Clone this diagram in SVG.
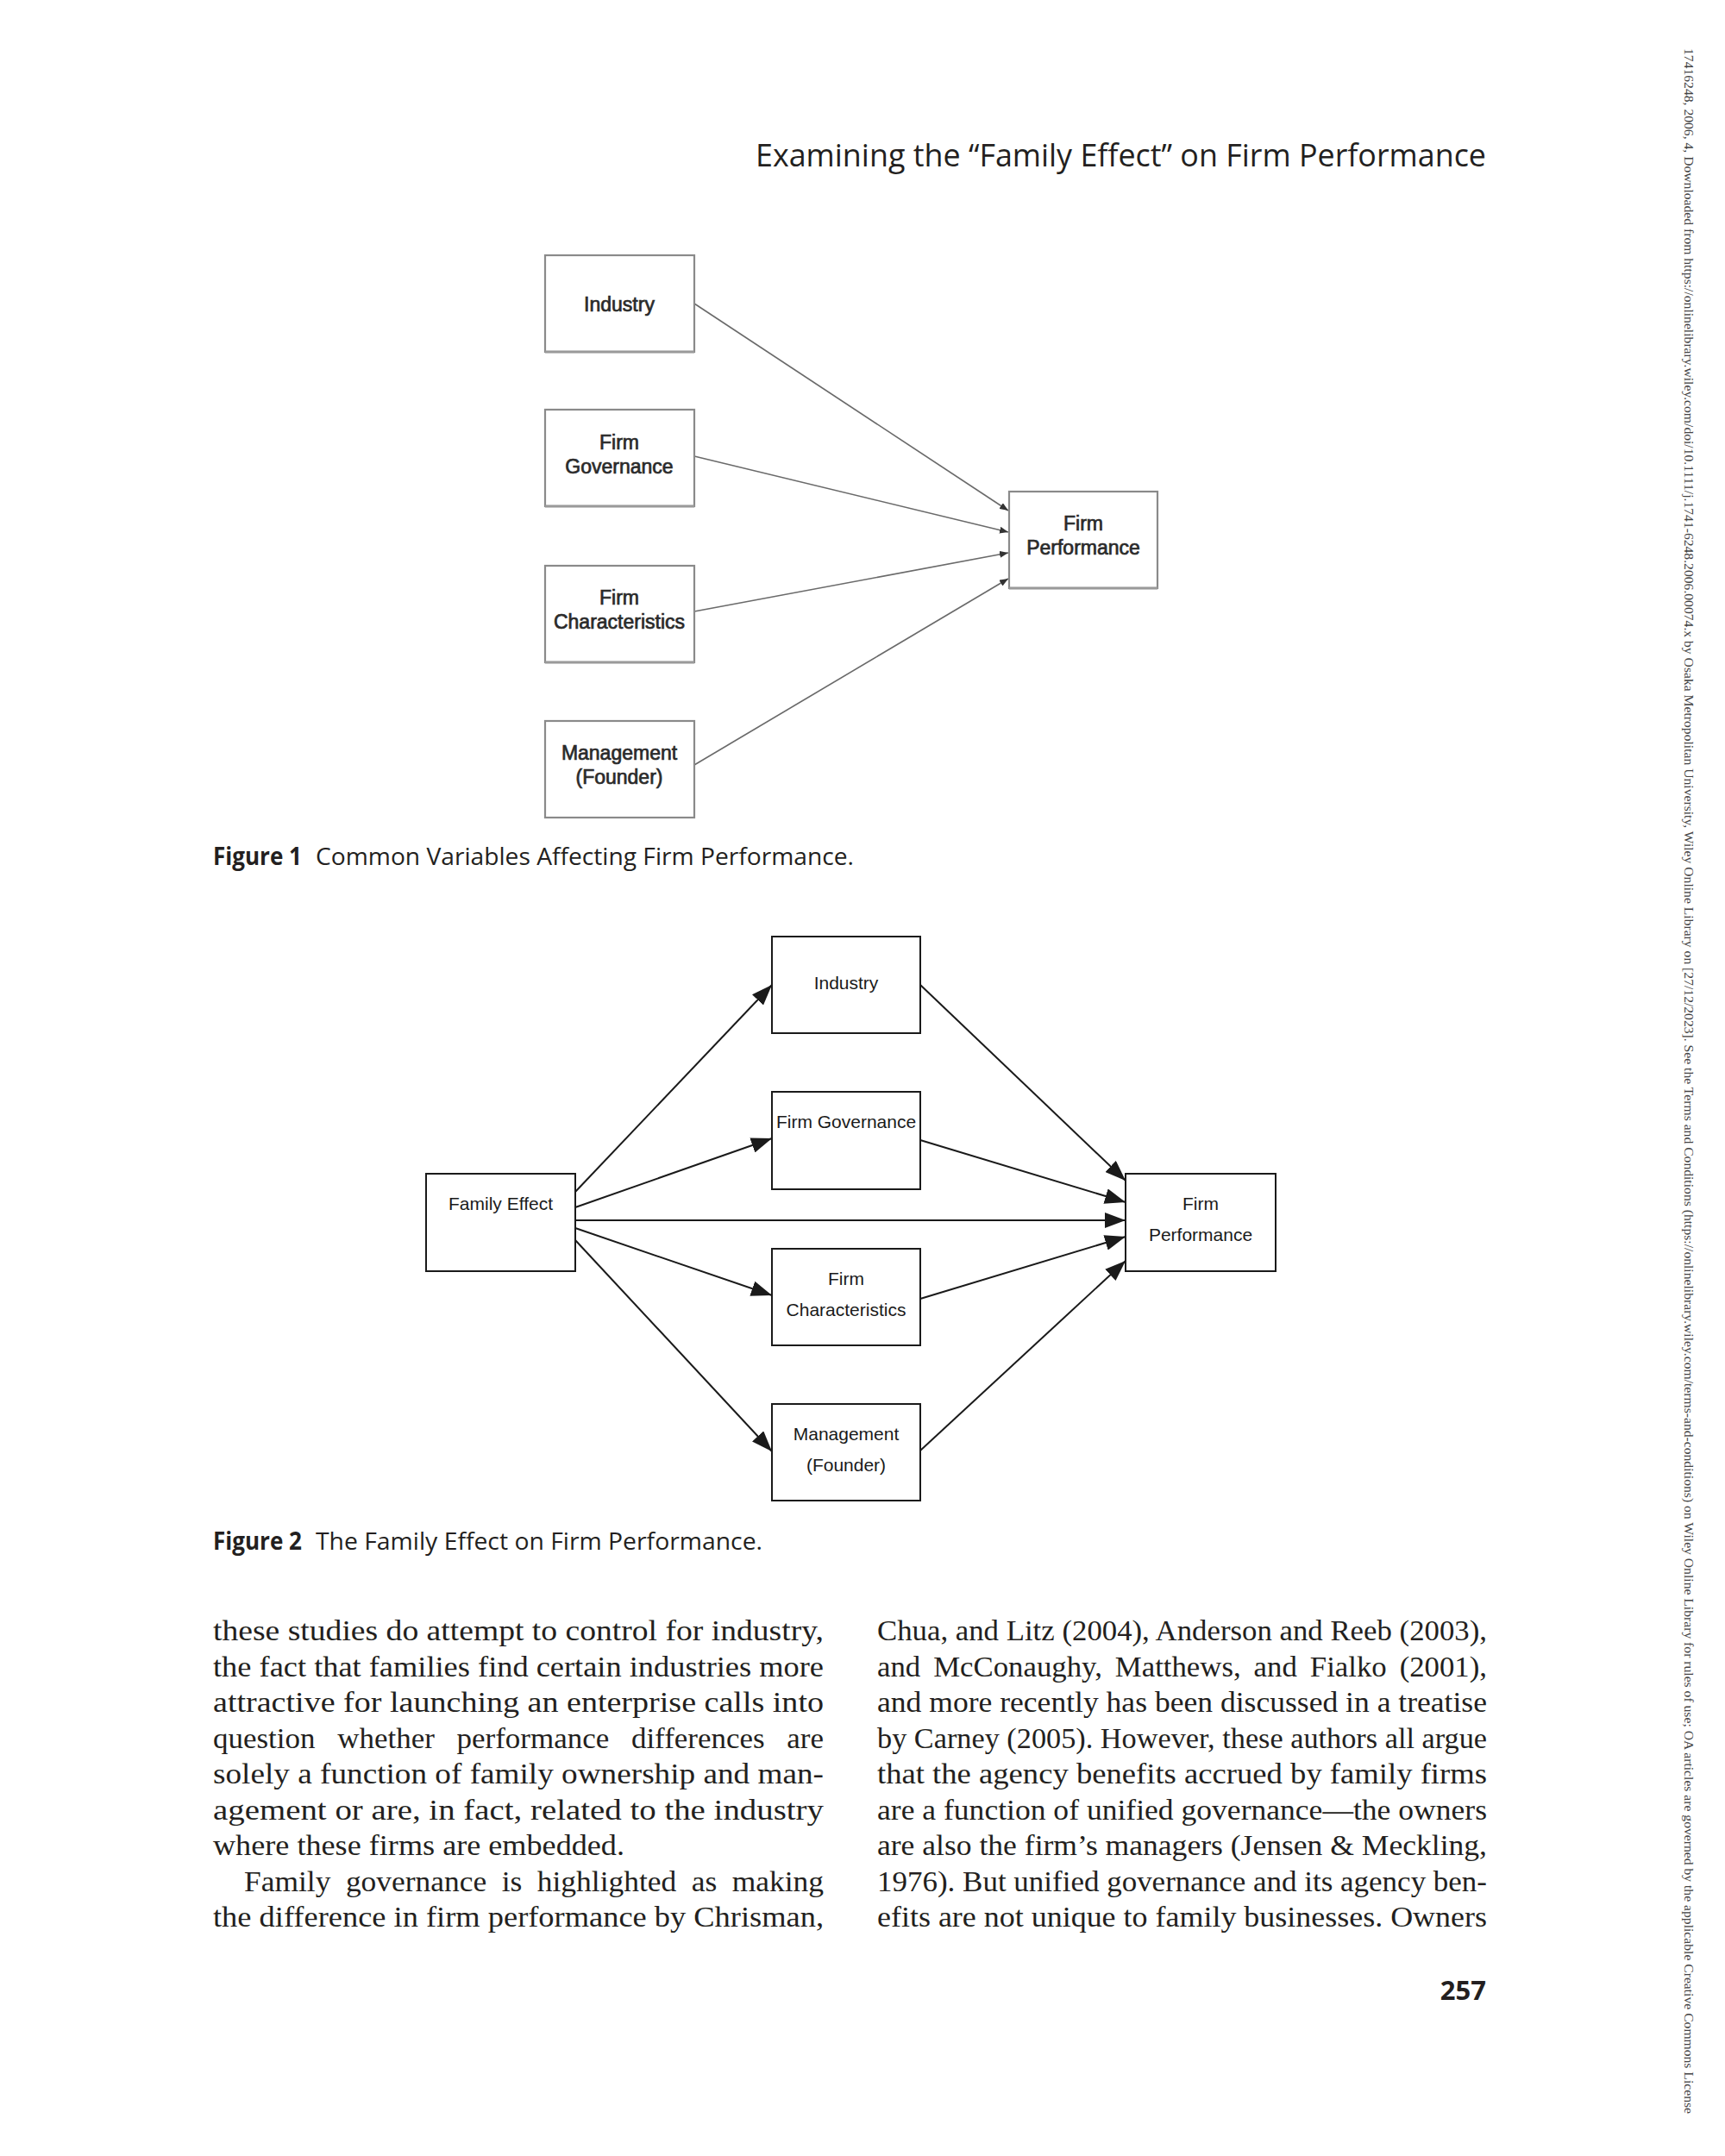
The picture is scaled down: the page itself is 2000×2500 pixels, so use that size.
<svg xmlns="http://www.w3.org/2000/svg" width="2000" height="2500" viewBox="0 0 2000 2500">
<style>
.f1box{fill:#fff;stroke:#8a8a8a;stroke-width:2.2}
.f1sh{stroke:#9a9a9a;stroke-width:3;fill:none}
.f1t{font-family:"Liberation Sans",Arial,sans-serif;font-size:23px;fill:#2a2a2a;stroke:#2a2a2a;stroke-width:0.7;text-anchor:middle}
.f1l{stroke:#6a6a6a;stroke-width:1.6;fill:none;marker-end:url(#ah1)}
.f2box{fill:#fff;stroke:#1a1a1a;stroke-width:2}
.f2t{font-family:"Liberation Sans",Arial,sans-serif;font-size:21px;fill:#1a1a1a;text-anchor:middle}
.f2l{stroke:#1a1a1a;stroke-width:2;fill:none;marker-end:url(#ah2)}
.hd{font-family:"Open Sans","Noto Sans",sans-serif;fill:#231f20}
.cap{font-family:"Open Sans","Noto Sans",sans-serif;font-size:28px;fill:#231f20}
.body{font-family:"Liberation Serif","Times New Roman",serif;font-size:33px;fill:#231f20}
.wm{font-family:"Liberation Serif","Times New Roman",serif;font-size:14px;fill:#444}
</style>
<defs>
<marker id="ah1" markerUnits="userSpaceOnUse" markerWidth="10" markerHeight="8" viewBox="0 0 10 8" refX="10" refY="4" orient="auto"><path d="M0,0 L10,4 L0,8 z" fill="#333"/></marker>
<marker id="ah2" markerUnits="userSpaceOnUse" markerWidth="24" markerHeight="18" viewBox="0 0 24 18" refX="24" refY="9" orient="auto"><path d="M0,0 L24,9 L0,18 z" fill="#1a1a1a"/></marker>
</defs>
<rect width="2000" height="2500" fill="#fff"/>

<text class="hd" x="1723" y="193" font-size="36" text-anchor="end" textLength="847" lengthAdjust="spacingAndGlyphs">Examining the “Family Effect” on Firm Performance</text>

<!-- Figure 1 -->
<g id="fig1-connectors">
<line class="f1l" x1="805" y1="352" x2="1169" y2="592"/>
<line class="f1l" x1="805" y1="529" x2="1169" y2="617"/>
<line class="f1l" x1="805" y1="709" x2="1169" y2="641"/>
<line class="f1l" x1="805" y1="887" x2="1169" y2="671"/>
</g>
<g id="f1-industry">
<rect class="f1box" x="632" y="296" width="173" height="112"/>
<line class="f1sh" x1="632" y1="408" x2="805" y2="408"/>
<text class="f1t" x="718" y="361">Industry</text>
</g>
<g id="f1-governance">
<rect class="f1box" x="632" y="475" width="173" height="112"/>
<line class="f1sh" x1="632" y1="587" x2="805" y2="587"/>
<text class="f1t" x="718" y="521">Firm</text>
<text class="f1t" x="718" y="549">Governance</text>
</g>
<g id="f1-characteristics">
<rect class="f1box" x="632" y="656" width="173" height="112"/>
<line class="f1sh" x1="632" y1="768" x2="805" y2="768"/>
<text class="f1t" x="718" y="701">Firm</text>
<text class="f1t" x="718" y="729">Characteristics</text>
</g>
<g id="f1-management">
<rect class="f1box" x="632" y="836" width="173" height="112"/>
<text class="f1t" x="718" y="881">Management</text>
<text class="f1t" x="718" y="909">(Founder)</text>
</g>
<g id="f1-performance">
<rect class="f1box" x="1170" y="570" width="172" height="112"/>
<line class="f1sh" x1="1170" y1="682" x2="1342" y2="682"/>
<text class="f1t" x="1256" y="615">Firm</text>
<text class="f1t" x="1256" y="643">Performance</text>
</g>

<text class="cap" x="247" y="1003"><tspan font-weight="bold" textLength="103" lengthAdjust="spacingAndGlyphs">Figure 1</tspan></text>
<text class="cap" x="366" y="1003" textLength="624" lengthAdjust="spacingAndGlyphs">Common Variables Affecting Firm Performance.</text>

<!-- Figure 2 -->
<g id="fig2-connectors">
<line class="f2l" x1="667" y1="1382" x2="895" y2="1142"/>
<line class="f2l" x1="667" y1="1400" x2="895" y2="1320"/>
<line class="f2l" x1="667" y1="1415" x2="1305" y2="1415"/>
<line class="f2l" x1="667" y1="1424" x2="895" y2="1502"/>
<line class="f2l" x1="667" y1="1438" x2="895" y2="1683"/>
<line class="f2l" x1="1067" y1="1142" x2="1305" y2="1369"/>
<line class="f2l" x1="1067" y1="1322" x2="1305" y2="1394"/>
<line class="f2l" x1="1067" y1="1506" x2="1305" y2="1434"/>
<line class="f2l" x1="1067" y1="1682" x2="1305" y2="1462"/>
</g>
<g id="f2-family">
<rect class="f2box" x="494" y="1361" width="173" height="113"/>
<text class="f2t" x="580.5" y="1403">Family Effect</text>
</g>
<g id="f2-industry">
<rect class="f2box" x="895" y="1086" width="172" height="112"/>
<text class="f2t" x="981" y="1147">Industry</text>
</g>
<g id="f2-governance">
<rect class="f2box" x="895" y="1266" width="172" height="113"/>
<text class="f2t" x="981" y="1308">Firm Governance</text>
</g>
<g id="f2-characteristics">
<rect class="f2box" x="895" y="1448" width="172" height="112"/>
<text class="f2t" x="981" y="1490">Firm</text>
<text class="f2t" x="981" y="1526">Characteristics</text>
</g>
<g id="f2-management">
<rect class="f2box" x="895" y="1628" width="172" height="112"/>
<text class="f2t" x="981" y="1670">Management</text>
<text class="f2t" x="981" y="1706">(Founder)</text>
</g>
<g id="f2-performance">
<rect class="f2box" x="1305" y="1361" width="174" height="113"/>
<text class="f2t" x="1392" y="1403">Firm</text>
<text class="f2t" x="1392" y="1439">Performance</text>
</g>

<text class="cap" x="247" y="1797"><tspan font-weight="bold" textLength="103" lengthAdjust="spacingAndGlyphs">Figure 2</tspan></text>
<text class="cap" x="366" y="1797" textLength="518" lengthAdjust="spacingAndGlyphs">The Family Effect on Firm Performance.</text>

<!-- Body text -->
<g id="col-left" class="body">
<text x="247" y="1902" textLength="708" lengthAdjust="spacingAndGlyphs">these studies do attempt to control for industry,</text>
<text x="247" y="1943.5" textLength="708" lengthAdjust="spacingAndGlyphs">the fact that families find certain industries more</text>
<text x="247" y="1985" textLength="708" lengthAdjust="spacingAndGlyphs">attractive for launching an enterprise calls into</text>
<text x="247" y="2026.5" word-spacing="16" textLength="708" lengthAdjust="spacingAndGlyphs">question whether performance differences are</text>
<text x="247" y="2068" textLength="708" lengthAdjust="spacingAndGlyphs">solely a function of family ownership and man-</text>
<text x="247" y="2109.5" textLength="708" lengthAdjust="spacingAndGlyphs">agement or are, in fact, related to the industry</text>
<text x="247" y="2151" textLength="477" lengthAdjust="spacingAndGlyphs">where these firms are embedded.</text>
<text x="283" y="2192.5" word-spacing="8" textLength="672" lengthAdjust="spacingAndGlyphs">Family governance is highlighted as making</text>
<text x="247" y="2234" textLength="708" lengthAdjust="spacingAndGlyphs">the difference in firm performance by Chrisman,</text>
</g>
<g id="col-right" class="body">
<text x="1017" y="1902" textLength="707" lengthAdjust="spacingAndGlyphs">Chua, and Litz (2004), Anderson and Reeb (2003),</text>
<text x="1017" y="1943.5" word-spacing="6" textLength="707" lengthAdjust="spacingAndGlyphs">and McConaughy, Matthews, and Fialko (2001),</text>
<text x="1017" y="1985" textLength="707" lengthAdjust="spacingAndGlyphs">and more recently has been discussed in a treatise</text>
<text x="1017" y="2026.5" textLength="707" lengthAdjust="spacingAndGlyphs">by Carney (2005). However, these authors all argue</text>
<text x="1017" y="2068" textLength="707" lengthAdjust="spacingAndGlyphs">that the agency benefits accrued by family firms</text>
<text x="1017" y="2109.5" textLength="707" lengthAdjust="spacingAndGlyphs">are a function of unified governance—the owners</text>
<text x="1017" y="2151" textLength="707" lengthAdjust="spacingAndGlyphs">are also the firm’s managers (Jensen &amp; Meckling,</text>
<text x="1017" y="2192.5" textLength="707" lengthAdjust="spacingAndGlyphs">1976). But unified governance and its agency ben-</text>
<text x="1017" y="2234" textLength="707" lengthAdjust="spacingAndGlyphs">efits are not unique to family businesses. Owners</text>
</g>

<text x="1723" y="2319" text-anchor="end" font-family="'Open Sans','Noto Sans',sans-serif" font-weight="bold" font-size="31" fill="#231f20">257</text>

<text class="wm" transform="translate(1953,56) rotate(90)" x="0" y="0" textLength="2395" lengthAdjust="spacingAndGlyphs">17416248, 2006, 4, Downloaded from https://onlinelibrary.wiley.com/doi/10.1111/j.1741-6248.2006.00074.x by Osaka Metropolitan University, Wiley Online Library on [27/12/2023]. See the Terms and Conditions (https://onlinelibrary.wiley.com/terms-and-conditions) on Wiley Online Library for rules of use; OA articles are governed by the applicable Creative Commons License</text>
</svg>
